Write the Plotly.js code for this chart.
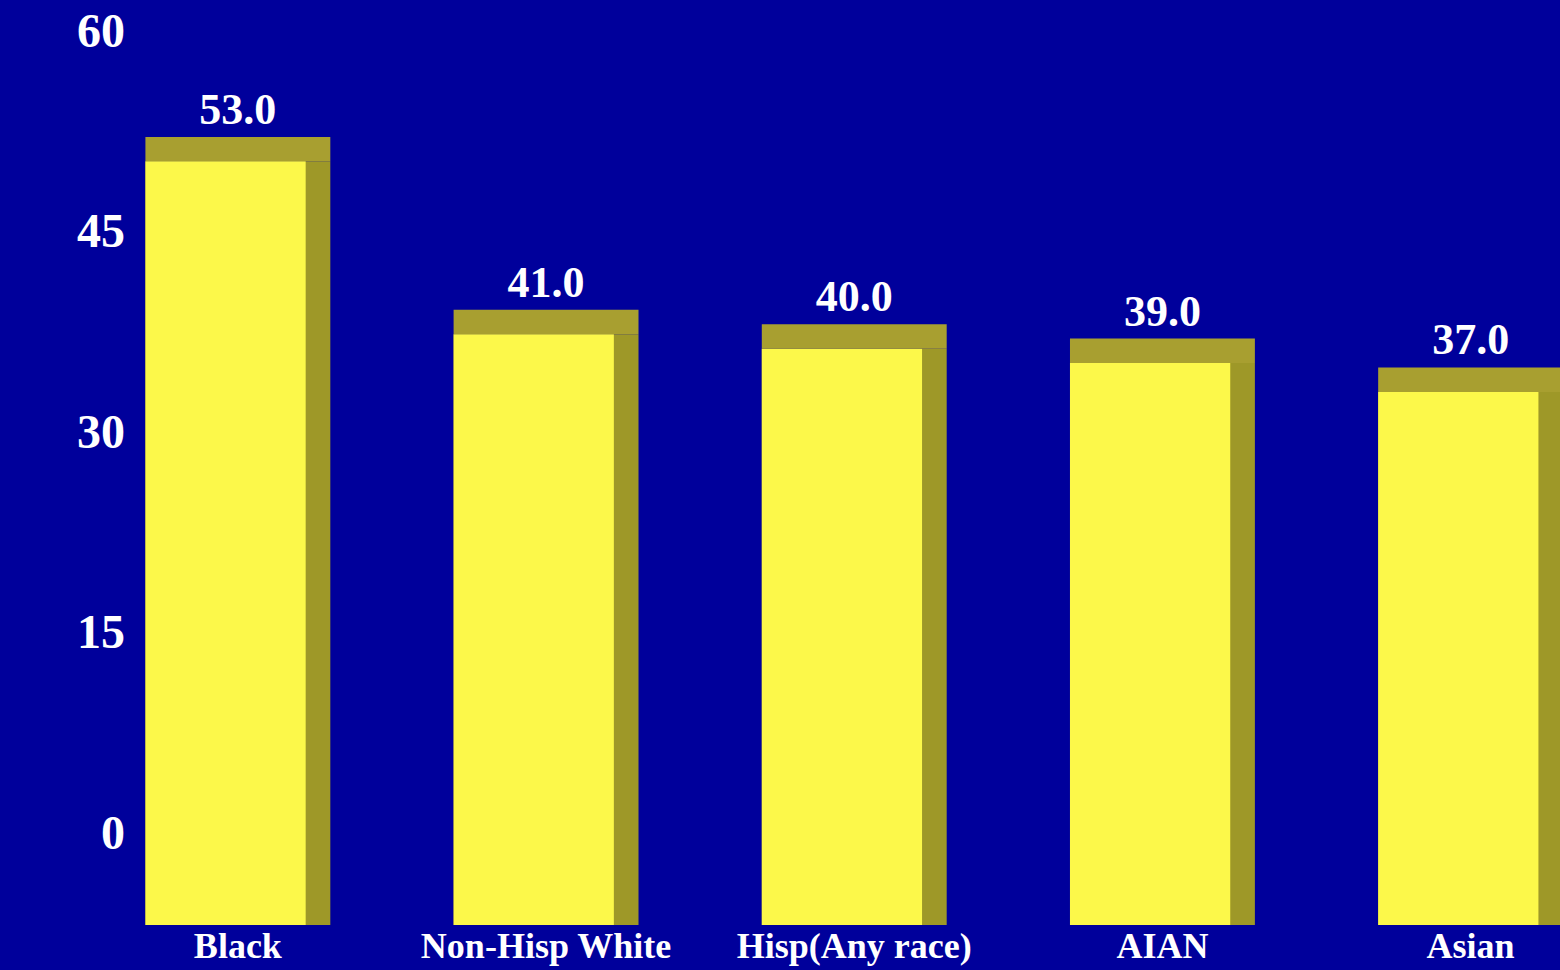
<!DOCTYPE html>
<html>
<head>
<meta charset="utf-8">
<script src="https://cdn.plot.ly/plotly-3.0.1.min.js"></script>
<style>html,body{margin:0;padding:0;background:#00009b;}#chart{width:1560px;height:970px;}</style>
</head>
<body>
<div id="chart"></div>
<script>
const categories = ["Black", "Non-Hisp White", "Hisp(Any race)", "AIAN", "Asian"];
const values = [53.0, 41.0, 40.0, 39.0, 37.0];
const tickValues = [0, 15, 30, 45, 60];
const tickLabels = ["0", "15", "30", "45", "60"];

const serif = "Liberation Serif, Times New Roman, serif";
const capDepth = 1.7;
const idx = categories.map((c, i) => i);

const side = {
  type: "bar", x: idx, y: values, width: 0.6,
  marker: {color: "#9e9828", line: {width: 0}},
  hoverinfo: "skip", showlegend: false
};
const front = {
  type: "bar", x: idx, y: values, width: 0.52, offset: -0.3,
  marker: {color: "#fcf84a", line: {width: 0}},
  hoverinfo: "skip", showlegend: false
};
const cap = {
  type: "bar", x: idx, y: values.map(() => capDepth), base: values, width: 0.6,
  marker: {color: "#a89f30", line: {width: 0}},
  text: values.map(v => v.toFixed(1)), textposition: "outside",
  textfont: {family: serif, size: 44, color: "#ffffff", weight: "bold"},
  cliponaxis: false, hoverinfo: "skip", showlegend: false
};
const axisHelper = {
  type: "scatter", x: [0, 0], y: [tickValues[0], tickValues[tickValues.length - 1]], yaxis: "y2",
  mode: "markers", marker: {opacity: 0}, hoverinfo: "skip", showlegend: false
};

const layout = {
  width: 1560, height: 970,
  paper_bgcolor: "#00009b", plot_bgcolor: "#00009b",
  margin: {l: 130, r: 0, t: 0, b: 45},
  barmode: "overlay",
  showlegend: false,
  xaxis: {
    range: [-0.35, 4.29], tickvals: idx, ticktext: categories,
    showgrid: false, zeroline: false, showline: false, ticks: "",
    tickfont: {family: serif, size: 36, color: "#ffffff", weight: "bold"},
    ticklabelstandoff: -4
  },
  yaxis: {
    range: [0, 64.2], showgrid: false, zeroline: false, showline: false,
    showticklabels: false, ticks: ""
  },
  yaxis2: {
    overlaying: "y", side: "left", range: [-6.96, 62.25],
    tickvals: tickValues, ticktext: tickLabels,
    showgrid: false, zeroline: false, showline: false, ticks: "",
    tickfont: {family: serif, size: 48, color: "#ffffff", weight: "bold"},
    ticklabelstandoff: 4
  }
};

Plotly.newPlot("chart", [side, front, cap, axisHelper], layout, {displayModeBar: false, staticPlot: true});
</script>
</body>
</html>
